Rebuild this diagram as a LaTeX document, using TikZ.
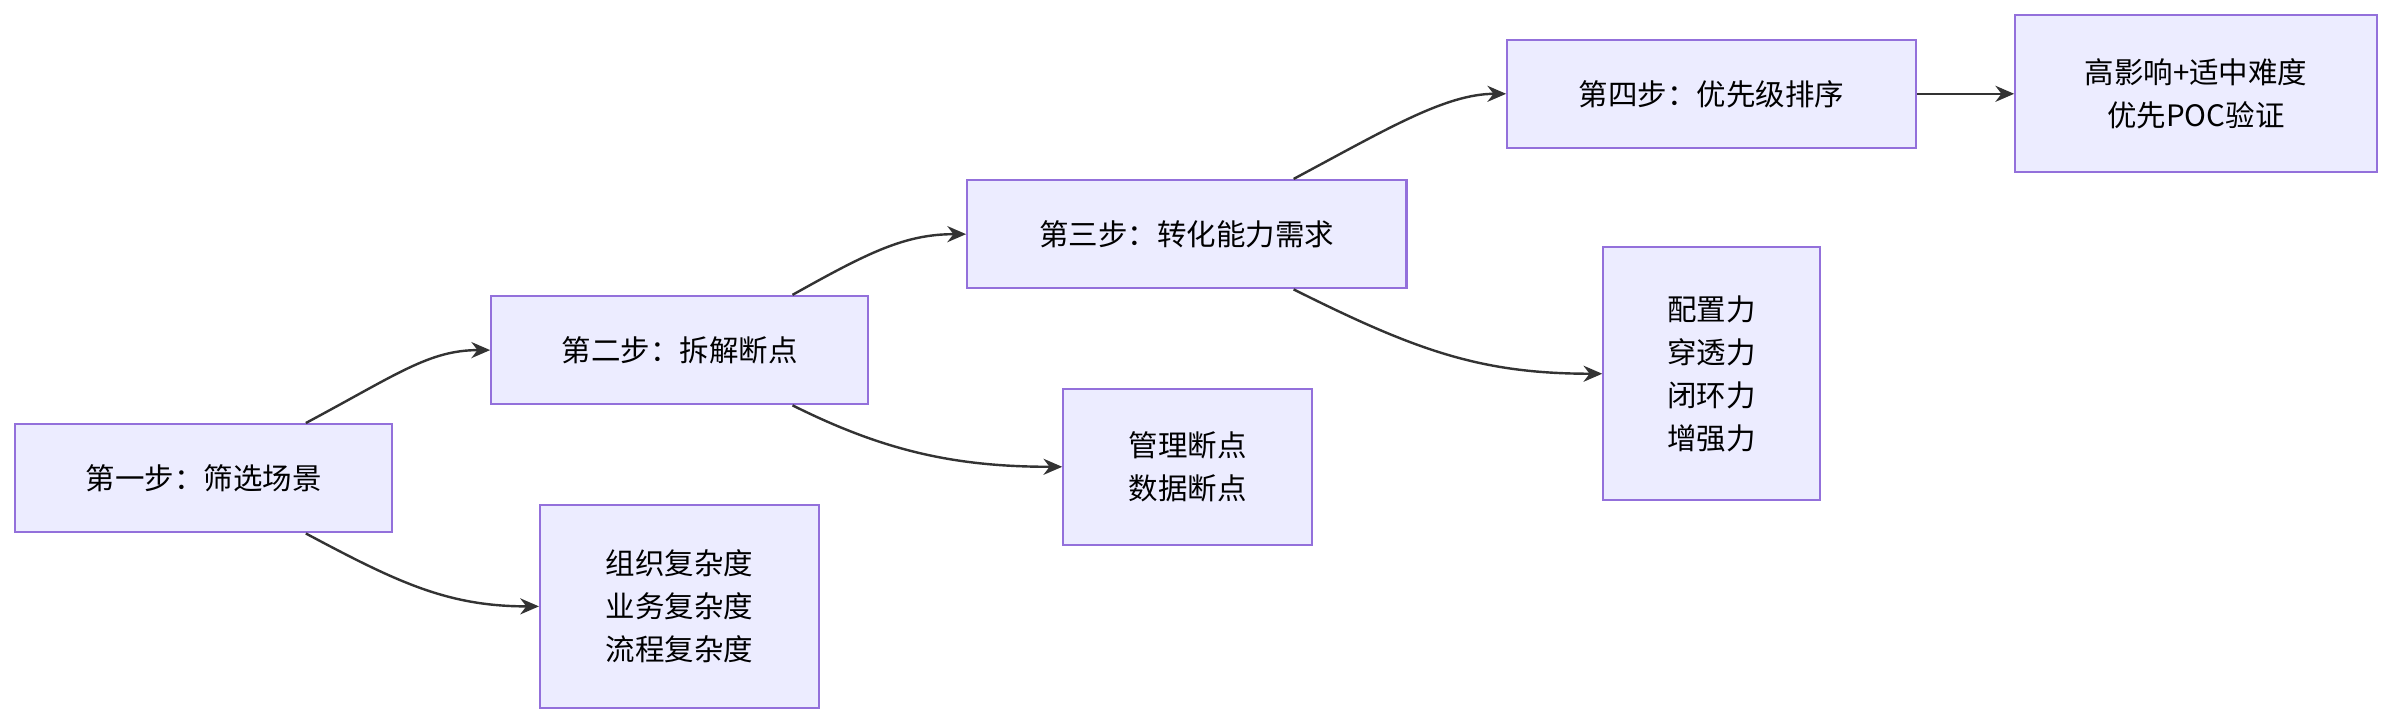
\documentclass[tikz,border=0pt]{standalone}
\usepackage{fontspec}
\setmainfont{Noto Sans CJK SC}
\usetikzlibrary{arrows.meta,positioning,calc}
\definecolor{boxfill}{HTML}{ECECFF}
\definecolor{boxline}{HTML}{9370DB}
\definecolor{edge}{HTML}{333333}
\begin{document}
\begin{tikzpicture}[x=0.02cm,y=-0.02cm, >={Stealth[length=7pt,width=6pt]},
        stage/.style={rectangle,draw=boxline,fill=boxfill,line width=0.8pt,text=black,
          font=\fontsize{11pt}{16pt}\selectfont,align=center,inner sep=0pt},
        link/.style={->,draw=edge,line width=0.9pt}]
        \useasboundingbox (0,0) rectangle (1568,475);
        \node[stage,minimum width=247*0.02cm,minimum height=71*0.02cm] at (133.5,313.5) (s1) {第一步：筛选场景};
        \node[stage,minimum width=183*0.02cm,minimum height=133*0.02cm] at (445.5,397.5) (c1) {组织复杂度\\业务复杂度\\流程复杂度};
        \node[stage,minimum width=247*0.02cm,minimum height=71*0.02cm] at (445.5,229.5) (s2) {第二步：拆解断点};
        \node[stage,minimum width=163*0.02cm,minimum height=102*0.02cm] at (778.5,306) (b2) {管理断点\\数据断点};
        \node[stage,minimum width=288*0.02cm,minimum height=71*0.02cm] at (778,153.5) (s3) {第三步：转化能力需求};
        \node[stage,minimum width=142*0.02cm,minimum height=166*0.02cm] at (1122,245) (c3) {配置力\\穿透力\\闭环力\\增强力};
        \node[stage,minimum width=268*0.02cm,minimum height=71*0.02cm] at (1122,61.5) (s4) {第四步：优先级排序};
        \node[stage,minimum width=237*0.02cm,minimum height=103*0.02cm] at (1439.5,61.5) (r) {高影响+适中难度\\优先POC验证};
        \draw[link] ($(s1.north)+(67,0)$) .. controls +(60,-32) and +(-40,0) .. (s2.west);
        \draw[link] ($(s1.south)+(67,0)$) .. controls +(60,32) and +(-60,0) .. (c1.west);
        \draw[link] ($(s2.north)+(74,0)$) .. controls +(50,-28) and +(-40,0) .. (s3.west);
        \draw[link] ($(s2.south)+(74,0)$) .. controls +(60,30) and +(-70,0) .. (b2.west);
        \draw[link] ($(s3.north)+(70,0)$) .. controls +(60,-32) and +(-40,0) .. (s4.west);
        \draw[link] ($(s3.south)+(70,0)$) .. controls +(80,40) and +(-80,0) .. (c3.west);
        \draw[link] (s4) -- (r);
      \end{tikzpicture}
\end{document}
